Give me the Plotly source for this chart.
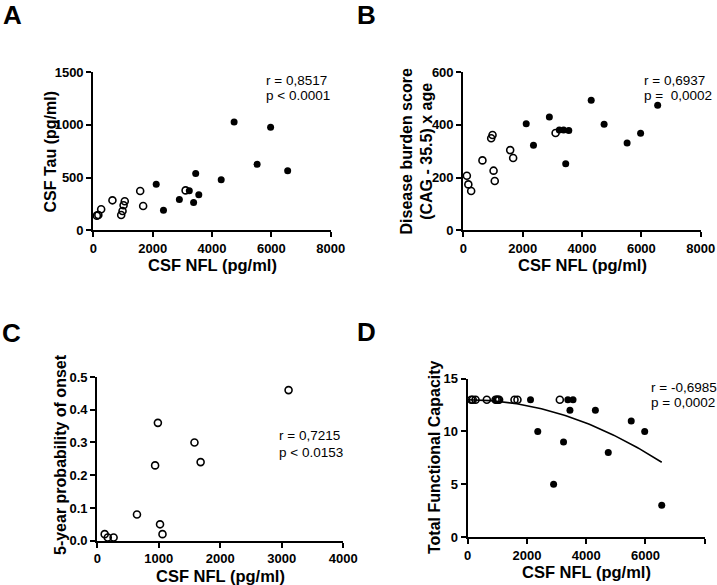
import plotly.graph_objects as go

# ---------------- data ----------------
# CSF NFL (pg/ml) for the two groups
nfl_open = [120, 170, 265, 645, 940, 985, 1020, 1060, 1580, 1680, 3110]
nfl_filled = [2120, 2365, 2900, 3235, 3380, 3451, 3555, 4310, 4745, 5520, 5975, 6550]

# Panel A: CSF Tau (pg/ml)
tau_open = [139, 145, 199, 284, 145, 183, 237, 275, 373, 230, 378]
tau_filled = [436, 189, 292, 374, 263, 539, 337, 478, 1026, 625, 976, 565]

# Panel B: Disease burden score
dbs_open = [207, 174, 149, 265, 349, 361, 226, 187, 304, 274, 369]
dbs_filled = [404, 322, 429, 380, 380, 252, 378, 493, 402, 331, 368, 474]

# Panel C: 5-year probability of onset (open group only)
prob_open = [0.02, 0.01, 0.01, 0.08, 0.23, 0.36, 0.05, 0.02, 0.30, 0.24, 0.46]

# Panel D: Total Functional Capacity
tfc_open = [13, 13, 13, 13, 13, 13, 13, 13, 13, 13, 13]
tfc_filled = [13, 10, 5, 9, 13, 12, 13, 12, 8, 11, 10, 3]

# Panel D fitted curve: y = c0 + c2 * x^2
fit_c0 = 13.0
fit_c2 = -1.38e-7
fit_x_end = 6550

# tick values
ticks_x_8000 = [0, 2000, 4000, 6000, 8000]
ticks_x_4000 = [0, 1000, 2000, 3000, 4000]
ticks_tau = [0, 500, 1000, 1500]
ticks_dbs = [0, 200, 400, 600]
ticks_prob = [0.0, 0.1, 0.2, 0.3, 0.4, 0.5]
ticks_tfc = [0, 5, 10, 15]

# ---------------- layout helpers ----------------
W, H = 717, 585
FONT = "Liberation Sans, Arial, Helvetica, sans-serif"


def px(x):
    return x / W


def py(y):
    return 1 - y / H


fig = go.Figure()

open_marker = dict(symbol="circle-open", size=7, color="black", line=dict(width=1.6, color="black"))
filled_marker = dict(symbol="circle", size=7, color="black", line=dict(width=0))


def add_pts(x, y, ax, marker):
    fig.add_trace(go.Scatter(x=x, y=y, mode="markers", marker=marker,
                             xaxis="x" + ax, yaxis="y" + ax, showlegend=False,
                             cliponaxis=False, hoverinfo="x+y"))


add_pts(nfl_open, tau_open, "", open_marker)
add_pts(nfl_filled, tau_filled, "", filled_marker)
add_pts(nfl_open, dbs_open, "2", open_marker)
add_pts(nfl_filled, dbs_filled, "2", filled_marker)
add_pts(nfl_open, prob_open, "3", open_marker)

# fitted curve in D
n = 80
fx = [fit_x_end * i / (n - 1) for i in range(n)]
fy = [fit_c0 + fit_c2 * v * v for v in fx]
fig.add_trace(go.Scatter(x=fx, y=fy, mode="lines", line=dict(color="black", width=1.6),
                         xaxis="x4", yaxis="y4", showlegend=False, hoverinfo="skip"))
add_pts(nfl_open, tfc_open, "4", open_marker)
add_pts(nfl_filled, tfc_filled, "4", filled_marker)

tickfont = dict(family=FONT, size=13, color="black", weight="bold")


def axis(domain, rng, tickvals, anchor, fmt=None):
    d = dict(domain=domain, range=rng, tickvals=tickvals, anchor=anchor,
             showline=True, linecolor="black", linewidth=2.2, ticks="outside",
             ticklen=5, tickwidth=2, tickcolor="black", showgrid=False, zeroline=False,
             tickfont=tickfont, fixedrange=True, automargin=False)
    if fmt:
        d["tickformat"] = fmt
    return d


# pixel boundaries of the four plot areas
A_x = (93.3, 330.7); A_y = (230.3, 72.0)
B_x = (463.3, 700.7); B_y = (230.3, 72.0)
C_x = (97.3, 343.3); C_y = (540.7, 377.0)
D_x = (467.7, 704.7); D_y = (537.0, 378.7)

fig.update_layout(
    width=W, height=H, margin=dict(l=0, r=0, t=0, b=0),
    paper_bgcolor="white", plot_bgcolor="white",
    font=dict(family=FONT, color="black"),
    xaxis=axis([px(A_x[0]), px(A_x[1])], [0, 8000], ticks_x_8000, "y"),
    yaxis=axis([py(A_y[0]), py(A_y[1])], [0, 1500], ticks_tau, "x"),
    xaxis2=axis([px(B_x[0]), px(B_x[1])], [0, 8000], ticks_x_8000, "y2"),
    yaxis2=axis([py(B_y[0]), py(B_y[1])], [0, 600], ticks_dbs, "x2"),
    xaxis3=axis([px(C_x[0]), px(C_x[1])], [0, 4000], ticks_x_4000, "y3"),
    yaxis3=axis([py(C_y[0]), py(C_y[1])], [0, 0.5], ticks_prob, "x3", ".1f"),
    xaxis4=axis([px(D_x[0]), px(D_x[1])], [0, 8000], ticks_x_8000, "y4"),
    yaxis4=axis([py(D_y[0]), py(D_y[1])], [0, 15], ticks_tfc, "x4"),
)

ann = []


def text(x, y, s, size, bold=False, angle=0, xanchor="center"):
    ann.append(dict(x=px(x), y=py(y), xref="paper", yref="paper", text=s, showarrow=False,
                    xanchor=xanchor, yanchor="middle", textangle=angle, borderpad=0,
                    font=dict(family=FONT, size=size, color="black",
                              weight="bold" if bold else "normal")))


# panel letters
text(12.5, 14.5, "A", 26, True)
text(367, 14.5, "B", 26, True)
text(12, 332.5, "C", 26, True)
text(367, 331.5, "D", 26, True)

# axis titles
text(212, 265, "CSF NFL (pg/ml)", 16.5, True)
text(582, 265, "CSF NFL (pg/ml)", 16.5, True)
text(220, 576, "CSF NFL (pg/ml)", 16.5, True)
text(586, 571.5, "CSF NFL (pg/ml)", 16.5, True)
text(50.5, 152, "CSF Tau (pg/ml)", 16, True, -90)
text(416.5, 152, "Disease burden score<br>(CAG - 35.5) x age", 16, True, -90)
text(60, 455, "5-year probability of onset", 16, True, -90)
text(434, 457, "Total Functional Capacity", 16, True, -90)

# statistics
text(265, 80.5, "r = 0,8517", 13.5, xanchor="left")
text(265, 95.5, "p < 0.0001", 13.5, xanchor="left")
text(643, 80.5, "r = 0,6937", 13.5, xanchor="left")
text(643, 95.5, "p = \u00a00,0002", 13.5, xanchor="left")
text(277.7, 435.5, "r = 0,7215", 13.5, xanchor="left")
text(277.7, 452, "p < 0.0153", 13.5, xanchor="left")
text(649.7, 387.5, "r = -0,6985", 13.5, xanchor="left")
text(649.7, 402.5, "p = 0,0002", 13.5, xanchor="left")

fig.update_layout(annotations=ann)
fig.write_html(
    "out.html",
    config={"displayModeBar": False},
    post_script="document.body.style.margin='0';document.body.style.overflow='hidden';",
)
